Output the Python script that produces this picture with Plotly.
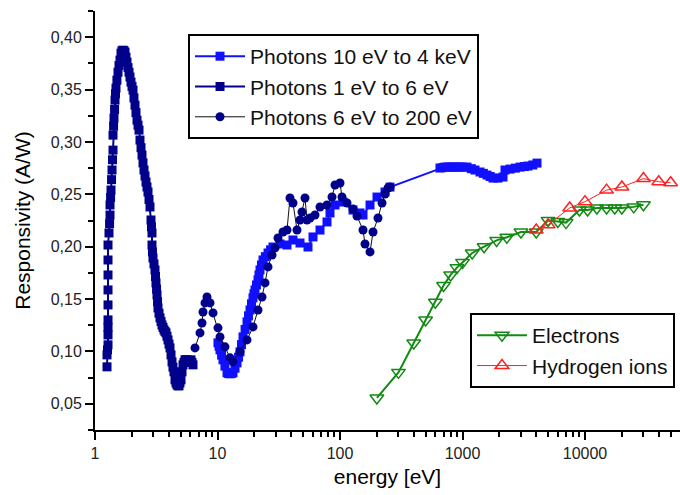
import plotly.graph_objects as go

# ---- data (energy in eV, responsivity in A/W) ----
blue_e = [10.09, 10.30, 10.48, 10.80, 11.09, 11.50, 11.96, 12.30, 12.65, 13.00, 13.38, 13.90,
          14.43, 14.85, 15.26, 15.70, 16.15, 16.80, 17.41, 17.90, 18.42, 18.95, 19.49, 19.85,
          20.24, 20.80, 21.41, 21.80, 22.23, 22.85, 23.52, 24.60, 25.84, 27.10, 28.39, 32.37,
          36.93, 41.33, 47.15, 54.80, 60.20, 68.68, 78.32, 82.86, 91.04, 105.8, 127.7, 145.7,
          154.1, 175.8, 200.5, 233.0, 256.0, 655.0, 690.0, 720.0, 755.0, 790.7, 830.0, 870.0,
          910.0, 954.1, 1000, 1088, 1180, 1265, 1390, 1480, 1585, 1680, 1774, 1949, 2141, 2223,
          2442, 2700, 2948, 3200, 3425, 3750, 4057]
blue_r = [0.1082, 0.1050, 0.1015, 0.0965, 0.0920, 0.0860, 0.0796, 0.0790, 0.0786, 0.0790,
          0.0796, 0.0840, 0.0891, 0.0945, 0.0996, 0.1065, 0.1139, 0.1210, 0.1282, 0.1340,
          0.1396, 0.1455, 0.1511, 0.1550, 0.1587, 0.1635, 0.1683, 0.1730, 0.1778, 0.1825,
          0.1873, 0.1905, 0.1940, 0.1970, 0.1997, 0.2026, 0.2016, 0.2064, 0.2035, 0.1997,
          0.2093, 0.2159, 0.2236, 0.2322, 0.2398, 0.2426, 0.2350, 0.2322, 0.2302, 0.2398,
          0.2474, 0.2522, 0.2569, 0.2751, 0.2755, 0.2760, 0.2760, 0.2760, 0.2760, 0.2760,
          0.2760, 0.2760, 0.2760, 0.2760, 0.2745, 0.2732, 0.2713, 0.2700, 0.2684, 0.2670,
          0.2655, 0.2655, 0.2665, 0.2732, 0.2741, 0.2750, 0.2760, 0.2765, 0.2770, 0.2780,
          0.2798]

navy_e = [1.253, 1.253, 1.265, 1.277, 1.277, 1.277, 1.277, 1.277, 1.277, 1.277,
          1.277, 1.277, 1.301, 1.315, 1.326, 1.326, 1.340, 1.351, 1.365, 1.377,
          1.390, 1.403, 1.403, 1.418, 1.429, 1.445, 1.457, 1.470, 1.484, 1.510,
          1.541, 1.570, 1.600, 1.630, 1.660, 1.693, 1.725, 1.758, 1.790, 1.825,
          1.860, 1.895, 1.930, 1.967, 2.005, 2.043, 2.080, 2.121, 2.160, 2.202,
          2.245, 2.287, 2.329, 2.375, 2.419, 2.465, 2.512, 2.560, 2.608, 2.657,
          2.708, 2.760, 2.812, 2.865, 2.890, 2.919, 2.919, 2.945, 2.975, 3.030,
          3.089, 3.120, 3.147, 3.180, 3.207, 3.240, 3.268, 3.330, 3.393, 3.460,
          3.524, 3.590, 3.659, 3.730, 3.798, 3.870, 3.944, 4.020, 4.095, 4.173,
          4.253, 4.330, 4.415, 4.499, 4.585, 4.672, 4.760, 4.851, 4.940, 5.036,
          5.131, 5.229, 5.330, 5.429, 5.530, 5.637, 5.745, 5.853, 5.960, 6.076,
          6.190, 6.310]
navy_r = [0.0853, 0.0967, 0.1015, 0.1063, 0.1158, 0.1230, 0.1301, 0.1444, 0.1587, 0.1730,
          0.1873, 0.2016, 0.2131, 0.2220, 0.2302, 0.2398, 0.2470, 0.2541, 0.2640, 0.2732,
          0.2830, 0.2922, 0.3065, 0.3150, 0.3227, 0.3310, 0.3399, 0.3460, 0.3514, 0.3590,
          0.3666, 0.3730, 0.3781, 0.3847, 0.3870, 0.3876, 0.3870, 0.3857, 0.3810, 0.3762,
          0.3710, 0.3666, 0.3620, 0.3571, 0.3530, 0.3495, 0.3420, 0.3351, 0.3280, 0.3208,
          0.3160, 0.3113, 0.3018, 0.2945, 0.2875, 0.2800, 0.2732, 0.2675, 0.2617, 0.2570,
          0.2522, 0.2450, 0.2379, 0.2255, 0.2190, 0.2131, 0.2016, 0.1950, 0.1892, 0.1835,
          0.1778, 0.1715, 0.1654, 0.1595, 0.1539, 0.1475, 0.1415, 0.1365, 0.1320, 0.1285,
          0.1253, 0.1230, 0.1206, 0.1190, 0.1177, 0.1145, 0.1110, 0.1070, 0.1034, 0.0967,
          0.0900, 0.0850, 0.0805, 0.0729, 0.0700, 0.0681, 0.0672, 0.0672, 0.0700, 0.0729,
          0.0805, 0.0872, 0.0895, 0.0920, 0.0920, 0.0920, 0.0910, 0.0900, 0.0910, 0.0920,
          0.0895, 0.0872]

circ_e = [6.551, 7.197, 7.473, 7.614, 7.906, 8.209, 8.686, 9.191, 10.09, 10.48, 11.51, 12.65,
          13.38, 15.26, 17.41, 19.49, 21.41, 23.08, 24.42, 25.84, 27.86, 29.48, 31.18, 34.25,
          36.93, 39.06, 41.33, 44.57, 47.15, 48.96, 51.79, 53.77, 56.90, 62.50, 68.68, 78.32,
          86.03, 91.04, 100.0, 103.8, 114.1, 127.7, 137.6, 154.1, 160.0, 175.8, 186.0, 204.3,
          220.3, 233.0, 246.5, 256.0]
circ_r = [0.1034, 0.1177, 0.1272, 0.1377, 0.1463, 0.1520, 0.1463, 0.1368, 0.1225, 0.1139,
          0.1044, 0.0939, 0.0900, 0.0996, 0.1110, 0.1234, 0.1396, 0.1520, 0.1654, 0.1807,
          0.1921, 0.1988, 0.2083, 0.2140, 0.2159, 0.2465, 0.2417, 0.2159, 0.2255, 0.2331,
          0.2465, 0.2255, 0.2274, 0.2302, 0.2379, 0.2398, 0.2474, 0.2589, 0.2608, 0.2474,
          0.2417, 0.2360, 0.2293, 0.2159, 0.2026, 0.1950, 0.2140, 0.2274, 0.2417, 0.2503,
          0.2560, 0.2569]

elec_e = [200, 300, 400, 500, 600, 700, 800, 900, 1000, 1200, 1500, 1900, 2300, 3000, 4000,
          5000, 6000, 7000, 9000, 10500, 12500, 15000, 17500, 20000, 25000, 30000]
elec_r = [0.0556, 0.0800, 0.1080, 0.1300, 0.1470, 0.1630, 0.1730, 0.1800, 0.1850, 0.1940,
          0.2000, 0.2060, 0.2090, 0.2140, 0.2140, 0.2250, 0.2240, 0.2230, 0.2350, 0.2350,
          0.2370, 0.2370, 0.2370, 0.2370, 0.2380, 0.2400]

hyd_e = [4000, 5000, 7500, 10000, 15000, 20000, 30000, 40000, 50000]
hyd_r = [0.2160, 0.2210, 0.2370, 0.2430, 0.2540, 0.2570, 0.2650, 0.2620, 0.2610]

x_tickvals = [1, 10, 100, 1000, 10000]
x_ticktext = ["1", "10", "100", "1000", "10000"]
y_tickvals = [0.05, 0.10, 0.15, 0.20, 0.25, 0.30, 0.35, 0.40]

FONT = "Liberation Sans, Arial, sans-serif"

fig = go.Figure()
fig.add_trace(go.Scatter(
    x=blue_e, y=blue_r, mode="lines+markers", name="Photons 10 eV to 4 keV",
    line=dict(color="#1010ff", width=2),
    marker=dict(symbol="square", size=9, color="#1010ff"),
    legend="legend"))
fig.add_trace(go.Scatter(
    x=navy_e, y=navy_r, mode="lines+markers", name="Photons 1 eV to 6 eV",
    line=dict(color="#00008b", width=2),
    marker=dict(symbol="square", size=9, color="#00008b"),
    legend="legend"))
fig.add_trace(go.Scatter(
    x=circ_e, y=circ_r, mode="lines+markers", name="Photons 6 eV to 200 eV",
    line=dict(color="#111111", width=1),
    marker=dict(symbol="circle", size=9, color="#00008b"),
    legend="legend"))
fig.add_trace(go.Scatter(
    x=elec_e, y=elec_r, mode="lines+markers", name="Electrons",
    line=dict(color="#138a13", width=2),
    marker=dict(symbol="triangle-down-open", size=12, color="#138a13", line=dict(width=1.5)),
    legend="legend2"))
fig.add_trace(go.Scatter(
    x=hyd_e, y=hyd_r, mode="lines+markers", name="Hydrogen ions",
    line=dict(color="#ff2020", width=1),
    marker=dict(symbol="triangle-up-open", size=12, color="#ff2020", line=dict(width=1.5)),
    legend="legend2"))

fig.update_layout(
    width=680, height=495,
    margin=dict(l=95, r=0, t=11, b=65, autoexpand=False),
    paper_bgcolor="white", plot_bgcolor="white",
    separators=",.",
    font=dict(family=FONT, color="#111111"),
    showlegend=True,
    legend=dict(x=0.159, y=0.945, xanchor="left", yanchor="top",
                bordercolor="black", borderwidth=2, bgcolor="white",
                font=dict(size=21, family=FONT, color="#111111"),
                itemwidth=50, tracegroupgap=0),
    legend2=dict(x=0.641, y=0.279, xanchor="left", yanchor="top",
                 bordercolor="black", borderwidth=2, bgcolor="white",
                 font=dict(size=21, family=FONT, color="#111111"),
                 itemwidth=50),
    xaxis=dict(type="log", range=[0, 4.7755], automargin=False,
               tickmode="array", tickvals=x_tickvals, ticktext=x_ticktext,
               ticks="outside", ticklen=8, tickwidth=2, tickcolor="black",
               showline=True, linecolor="black", linewidth=2, showgrid=False, zeroline=False,
               tickfont=dict(size=16, family=FONT, color="#222222"),
               minor=dict(tickmode="array",
                          tickvals=[d * 10 ** k for k in range(5) for d in range(2, 10)],
                          ticks="outside", ticklen=5, tickwidth=2, tickcolor="black",
                          showgrid=False),
               title=dict(text="energy [eV]", font=dict(size=21, family=FONT, color="black"),
                          standoff=8)),
    yaxis=dict(range=[0.025, 0.425], automargin=False,
               tickmode="array", tickvals=y_tickvals, tickformat=".2f",
               ticks="outside", ticklen=8, tickwidth=2, tickcolor="black",
               showline=True, linecolor="black", linewidth=2, showgrid=False, zeroline=False,
               tickfont=dict(size=16, family=FONT, color="#222222"),
               minor=dict(dtick=0.05, tick0=0.025, ticks="outside", ticklen=5, tickwidth=2,
                          tickcolor="black", showgrid=False),
               title=dict(text="Responsivity (A/W)", font=dict(size=21, family=FONT, color="black"),
                          standoff=14)),
)

fig.write_html("out.html",
               config={"displayModeBar": False},
               post_script="document.body.style.margin='0';document.body.style.overflow='hidden';")
